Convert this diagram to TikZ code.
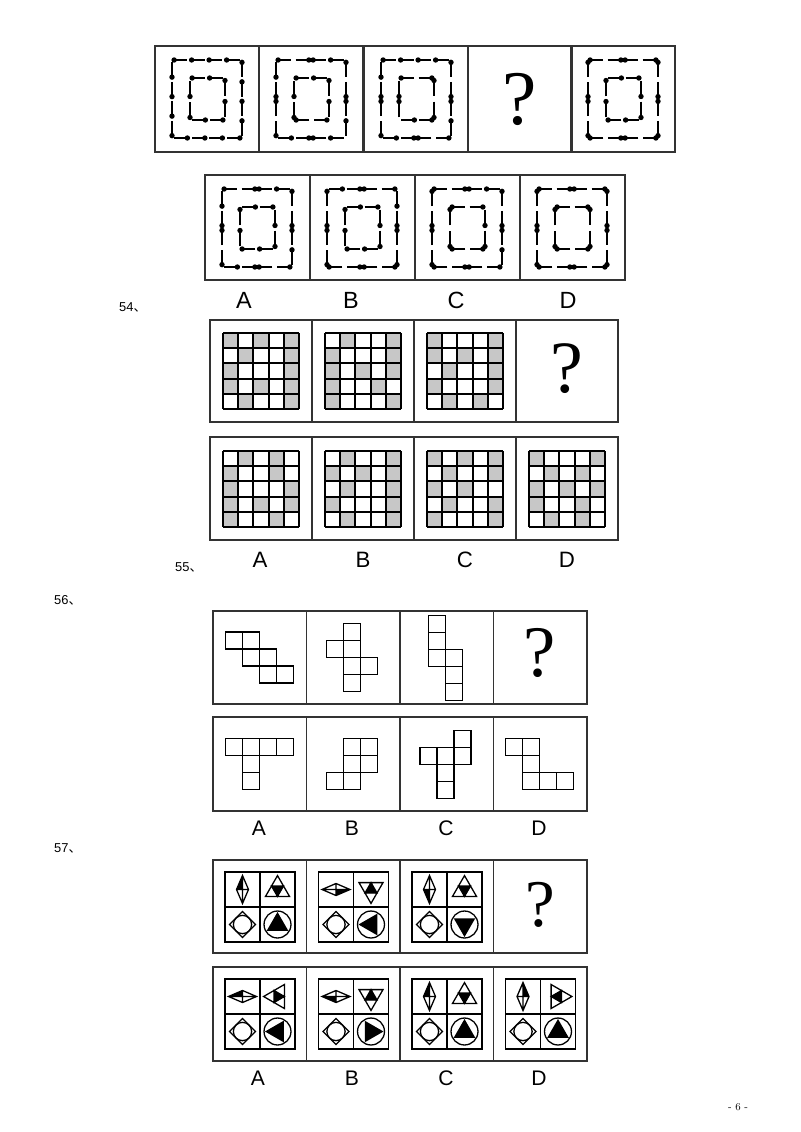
\documentclass[tikz,border=0pt]{standalone}
\usepackage{fontspec}
\setsansfont{Liberation Sans}
\newfontfamily\cjk{Noto Sans CJK SC}
\newfontfamily\qfont{Liberation Serif}
\usetikzlibrary{calc}

\tikzset{
  frame/.style={draw=black!80, line width=1.4pt},
  pinline/.style={line width=1.4pt},
  gridline/.style={line width=1.6pt},
  cellline/.style={line width=1.3pt},
  symline/.style={line width=1.1pt},
  cellfill/.style={fill=black!22},
  qmark/.style={font=\qfont\fontsize{#1}{#1}\selectfont, inner sep=0pt},
  optlabel/.style={font=\sffamily\fontsize{#1}{#1}\selectfont, inner sep=0pt},
  numlabel/.style={font=\sffamily\fontsize{11}{11}\selectfont, inner sep=0pt, anchor=west},
}

% one side of a dotted frame: start, end, number of pieces, dot ends
\newcommand{\pinrow}[6]{%
  \foreach \b [count=\i from 0] in {#6}{%
    \coordinate (ps) at ($(#1,#2)!{(\i+0.12)/#5}!(#3,#4)$);
    \coordinate (pe) at ($(#1,#2)!{(\i+0.88)/#5}!(#3,#4)$);
    \draw[pinline] (ps) -- (pe);
    \ifnum\b=0 \fill (ps) circle[radius=2.3pt];\else \fill (pe) circle[radius=2.3pt];\fi
  }}
\newcommand{\spiral}[9]{%
  \begin{scope}[shift={(#1)}]
    \pinrow{17}{14}{87}{14}{4}{#2}
    \pinrow{87}{14}{87}{92}{4}{#3}
    \pinrow{87}{92}{17}{92}{4}{#4}
    \pinrow{17}{92}{17}{14}{4}{#5}
    \pinrow{35}{32}{70}{32}{2}{#6}
    \pinrow{70}{32}{70}{74}{2}{#7}
    \pinrow{70}{74}{35}{74}{2}{#8}
    \pinrow{35}{74}{35}{32}{2}{#9}
  \end{scope}}
% 5x5 board with shaded cells
\newcommand{\shadegrid}[2]{%
  \begin{scope}[shift={(#1)}]
    \foreach \c/\r in {#2} \fill[cellfill] (\c*15.2,\r*15.2) rectangle ++(15.2,15.2);
    \foreach \k in {0,...,5} {
      \draw[gridline] (\k*15.2,0) -- (\k*15.2,76);
      \draw[gridline] (0,\k*15.2) -- (76,\k*15.2);
    }
  \end{scope}}
% unit squares
\newcommand{\cells}[2]{%
  \begin{scope}[shift={(#1)}]
    \foreach \c/\r in {#2} \draw[cellline] (\c*17,\r*17) rectangle ++(17,17);
  \end{scope}}
% symbols
\newcommand{\kite}[4]{%
  \begin{scope}[shift={(#1)}, rotate=#2, xscale=#3, yscale=#4]
    \fill (0,0) -- (0,-14) -- (-6,0) -- cycle;
    \draw[symline] (0,-14) -- (6,0) -- (0,14) -- (-6,0) -- cycle
      (0,-14) -- (0,14) (-6,0) -- (6,0);
  \end{scope}}
\newcommand{\trifo}[2]{%
  \begin{scope}[shift={(#1)}, rotate=#2]
    \fill (-6,-3.5) -- (6,-3.5) -- (0,6.9) -- cycle;
    \draw[symline] (0,-13.9) -- (-12,6.9) -- (12,6.9) -- cycle
      (-6,-3.5) -- (6,-3.5) -- (0,6.9) -- cycle;
  \end{scope}}
\newcommand{\diamcirc}[1]{%
  \begin{scope}[shift={(#1)}]
    \draw[symline] (0,-13) -- (13,0) -- (0,13) -- (-13,0) -- cycle;
    \draw[symline] (0,0) circle[radius=7.8pt];
  \end{scope}}
\newcommand{\circtri}[2]{%
  \begin{scope}[shift={(#1)}, rotate=#2]
    \draw[symline] (0,0) circle[radius=11.5pt];
    \fill (0,-12.5) -- (-10.8,6.25) -- (10.8,6.25) -- cycle;
  \end{scope}}
\newcommand{\symset}[6]{%
  \begin{scope}[shift={(#1)}]
    \draw[gridline] (12,12) rectangle (82,82) (47,12) -- (47,82) (12,47) -- (82,47);
    \kite{29.5,29.5}{#2}{#3}{#4}
    \trifo{64.5,29.5}{#5}
    \diamcirc{29.5,64.5}
    \circtri{64.5,64.5}{#6}
  \end{scope}}

\begin{document}
\begin{tikzpicture}[x=0.03cm, y=-0.03cm]
  \fill[white] (0,0) rectangle (800,1132);
  \useasboundingbox (0,0) rectangle (800,1132);

  % puzzle with dotted frames
  \foreach \x in {155,259,364,468,571} \draw[frame] (\x,46) rectangle ++(104,106);
  \foreach \x in {205,310,415,520} \draw[frame] (\x,175) rectangle ++(105,105);
  \spiral{155,46}{0,0,0,0}{0,0,0,0}{0,0,0,0}{0,0,0,0}{0,0}{0,0}{0,0}{0,0}
  \spiral{259,46}{0,1,0,0}{0,1,0,0}{1,1,0,0}{0,1,0,0}{0,0}{0,0}{0,1}{0,0}
  \spiral{364,46}{0,0,0,0}{0,1,0,0}{0,1,0,0}{0,1,0,0}{0,1}{0,1}{0,0}{1,0}
  \node[qmark=66] (q1) at (519.5,99) {?};
  \spiral{571,46}{0,1,0,1}{0,1,0,1}{0,1,0,1}{0,1,0,1}{1,1}{1,1}{1,1}{1,1}
  \spiral{205,175}{0,1,0,0}{0,1,0,0}{0,1,0,0}{0,1,0,0}{1,1}{1,1}{1,1}{1,1}
  \spiral{310,175}{1,1,0,1}{1,1,0,1}{0,1,0,1}{0,1,0,1}{1,1}{1,1}{1,1}{1,1}
  \spiral{415,175}{0,1,0,0}{0,1,0,0}{0,1,0,1}{0,1,0,1}{0,1}{1,1}{0,1}{0,1}
  \spiral{520,175}{0,1,0,1}{0,1,0,1}{0,1,0,1}{0,1,0,1}{0,1}{0,1}{0,1}{0,1}
  \foreach \t/\x in {A/244,B/351,C/456,D/568} \node[optlabel=20] (a\t) at (\x,300) {\t};
  \node[numlabel] (n54) at (119,307) {54{\cjk 、}};

  % shaded boards
  \foreach \x in {210,312,414,516} {
    \draw[frame] (\x,320) rectangle ++(102,102);
    \draw[frame] (\x,437) rectangle ++(102,103);
  }
  \shadegrid{223,333}{0/0,2/0,4/0,1/1,4/1,0/2,4/2,0/3,2/3,4/3,1/4,4/4}
  \shadegrid{325,333}{1/0,4/0,0/1,4/1,0/2,2/2,4/2,0/3,3/3,0/4,4/4}
  \shadegrid{427,333}{0/0,4/0,0/1,2/1,4/1,1/2,4/2,0/3,4/3,1/4,3/4}
  \node[qmark=63] (q2) at (567,369) {?};
  \shadegrid{223,451}{1/0,3/0,0/1,3/1,0/2,4/2,0/3,2/3,4/3,0/4,3/4}
  \shadegrid{325,451}{1/0,4/0,0/1,2/1,4/1,1/2,4/2,0/3,4/3,1/4,4/4}
  \shadegrid{427,451}{0/0,2/0,4/0,1/1,4/1,0/2,2/2,1/3,4/3,0/4,4/4}
  \shadegrid{529,451}{0/0,4/0,1/1,3/1,0/2,2/2,4/2,0/3,3/3,1/4,3/4}
  \foreach \t/\x in {A/260,B/363,C/465,D/567} \node[optlabel=19] (b\t) at (\x,560) {\t};
  \node[numlabel] (n55) at (175,567) {55{\cjk 、}};

  % squares
  \node[numlabel] (n56) at (54,600) {56{\cjk 、}};
  \foreach \x in {213,306.5,400,493.5} {
    \draw[frame] (\x,611) rectangle ++(93.5,93);
    \draw[frame] (\x,717) rectangle ++(93.5,94);
  }
  \cells{225.7,632}{0/0,1/0,1/1,2/1,2/2,3/2}
  \cells{326.3,623.7}{1/0,0/1,1/1,1/2,2/2,1/3}
  \cells{428.3,615.3}{0/0,0/1,0/2,1/2,1/3,1/4}
  \node[qmark=62] (q3) at (540,653) {?};
  \cells{225.7,738.7}{0/0,1/0,2/0,3/0,1/1,1/2}
  \cells{326.3,738.7}{1/0,2/0,1/1,2/1,0/2,1/2}
  \cells{420,730.7}{2/0,0/1,1/1,2/1,1/2,1/3}
  \cells{505.3,738.7}{0/0,1/0,1/1,1/2,2/2,3/2}
  \foreach \t/\x in {A/259,B/352,C/446,D/539} \node[optlabel=18] (c\t) at (\x,828) {\t};

  % symbols
  \node[numlabel] (n57) at (54,848) {57{\cjk 、}};
  \foreach \x in {213,306.5,400,493.5} {
    \draw[frame] (\x,860) rectangle ++(93.5,93);
    \draw[frame] (\x,967) rectangle ++(93.5,94);
  }
  \symset{213,860}{0}{1}{1}{0}{0}
  \symset{306.5,860}{90}{1}{-1}{180}{90}
  \symset{400,860}{0}{1}{-1}{0}{180}
  \node[qmark=57] (q4) at (540,905) {?};
  \symset{213,967}{90}{-1}{1}{90}{90}
  \symset{306.5,967}{90}{1}{1}{180}{270}
  \symset{400,967}{0}{1}{1}{0}{0}
  \symset{493.5,967}{0}{-1}{1}{270}{0}
  \foreach \t/\x in {A/258,B/352,C/446,D/539} \node[optlabel=18] (d\t) at (\x,1078) {\t};

  \node[font=\fontsize{9}{9}\selectfont, inner sep=0pt] (pg) at (738,1107) {- 6 -};
\end{tikzpicture}
\end{document}
